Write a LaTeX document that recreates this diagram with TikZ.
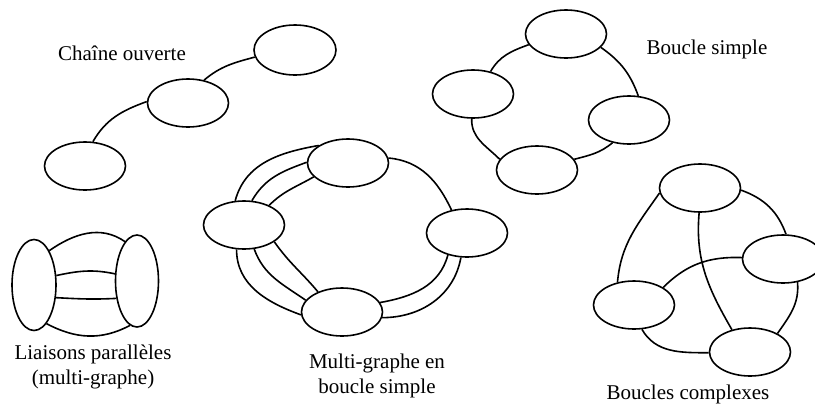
\documentclass[tikz,border=0pt]{standalone}
\usepackage{fontspec}
\setmainfont{Liberation Serif}
\usetikzlibrary{shapes.geometric}
\tikzset{
  ell/.style={draw, ellipse, minimum width=81pt, minimum height=48pt, inner sep=0pt, line width=1.6pt},
  vell/.style={draw, ellipse, minimum width=44pt, minimum height=91pt, inner sep=0pt, line width=1.6pt},
  lk/.style={line width=1.6pt},
  lbl/.style={font=\fontsize{21}{24.5}\selectfont, align=center, inner sep=0pt}
}
\begin{document}
\begin{tikzpicture}[x=1pt,y=-1pt]
\clip (0,0) rectangle (815,408);
\fill[white] (0,0) rectangle (815,408);

% Chaine ouverte
\node[ell] (c1) at (85,166) {};
\node[ell] (c2) at (188,103) {};
\node[ell, minimum width=82pt, minimum height=50pt] (c3) at (295,50) {};
\node[lbl] (tc) at (122,53) {Chaîne ouverte};
\draw[lk] (c1.72) to[out=60,in=200] (c2.178);
\draw[lk] (c2.55) to[out=40,in=195] (c3.190);

% Boucle simple
\node[ell] (s1) at (566,34) {};
\node[ell] (s2) at (473,94) {};
\node[ell] (s3) at (629,120) {};
\node[ell] (s4) at (537,170) {};
\node[lbl] (ts) at (707,49) {Boucle simple};
\draw[lk] (s1.196) to[out=200,in=60] (s2.52);
\draw[lk] (s1.339) to[out=-35,in=110] (s3.69);
\draw[lk] (s2.267) to[out=-92,in=135] (s4.164);
\draw[lk] (s4.16) to[out=15,in=220] (s3.234);

% Liaisons paralleles
\node[vell] (p1) at (34,285) {};
\node[vell, minimum width=43pt, minimum height=92pt] (p2) at (137,281) {};
\node[lbl] (tp) at (93,367) {Liaisons parallèles\\(multi-graphe)};
\draw[lk] (p1.66) to[out=35,in=145] (p2.107);
\draw[lk] (p1.23) to[out=12,in=168] (p2.162);
\draw[lk] (p1.330) to[out=-3,in=183] (p2.220);
\draw[lk] (p1.288) to[out=-28,in=208] (p2.261);

% Multi-graphe en boucle simple
\node[ell] (m1) at (348,163) {};
\node[ell] (m2) at (244,225) {};
\node[ell] (m3) at (467,233) {};
\node[ell] (m4) at (342,312) {};
\node[lbl] (tm) at (377,376) {Multi-graphe en\\boucle simple};
\draw[lk] (m2.110) to[out=75,in=190] (m1.149);
\draw[lk] (m2.72) to[out=60,in=200] (m1.179);
\draw[lk] (m2.38) to[out=45,in=210] (m1.202);
\draw[lk] (m1.7) to[out=-5,in=115] (m3.124);
\draw[lk] (m2.253) to[out=-90,in=160] (m4.184);
\draw[lk] (m2.293) to[out=-70,in=145] (m4.162);
\draw[lk] (m2.331) to[out=-55,in=130] (m4.140);
\draw[lk] (m3.229) to[out=-105,in=10] (m4.14);
\draw[lk] (m3.256) to[out=-100,in=0] (m4.352);

% Boucles complexes
\node[ell] (k1) at (700,188) {};
\node[ell] (k2) at (783,259) {};
\node[ell] (k3) at (634,305) {};
\node[ell] (k4) at (750,352) {};
\node[lbl] (tk) at (688,394) {Boucles complexes};
\draw[lk] (k1.187) to[out=235,in=85] (k3.126);
\draw[lk] (k1.357) to[out=-20,in=110] (k2.83);
\draw[lk] (k1.268) to[out=-95,in=120] (k4.129);
\draw[lk] (k3.31) to[out=45,in=178] (k2.178);
\draw[lk] (k2.302) to[out=-85,in=55] (k4.34);
\draw[lk] (k3.288) to[out=-60,in=180] (k4.181);
\end{tikzpicture}
\end{document}
